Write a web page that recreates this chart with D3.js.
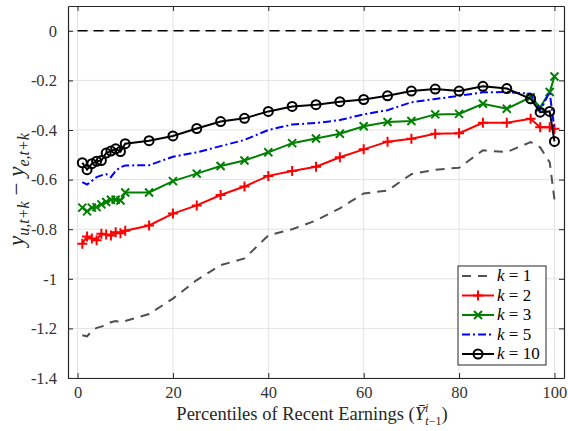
<!DOCTYPE html>
<html>
<head>
<meta charset="utf-8">
<script src="https://cdn.jsdelivr.net/npm/d3@7"></script>
<style>
  body { margin: 0; background: #fff; }
</style>
</head>
<body>
<div id="chart"></div>
<script>
// percentile grid on the x axis
const pct = [1,2,3,4,5,6,7,8,9,10,15,20,25,30,35,40,45,50,55,60,65,70,75,80,85,90,95,97,99,100];

// y_{u,t+k} - y_{e,t+k} for each horizon k
const k1 = [-1.228,-1.232,-1.21,-1.198,-1.193,-1.185,-1.175,-1.17,-1.175,-1.17,-1.142,-1.08,-1.005,-0.945,-0.918,-0.825,-0.80,-0.765,-0.716,-0.656,-0.644,-0.578,-0.56,-0.552,-0.482,-0.489,-0.449,-0.47,-0.53,-0.68];
const k2 = [-0.859,-0.829,-0.838,-0.845,-0.818,-0.821,-0.825,-0.812,-0.816,-0.806,-0.785,-0.737,-0.704,-0.662,-0.628,-0.585,-0.565,-0.548,-0.51,-0.478,-0.447,-0.435,-0.415,-0.413,-0.371,-0.371,-0.355,-0.389,-0.389,-0.395];
const k3 = [-0.713,-0.728,-0.713,-0.711,-0.70,-0.69,-0.681,-0.681,-0.684,-0.652,-0.652,-0.606,-0.576,-0.545,-0.523,-0.49,-0.453,-0.434,-0.415,-0.385,-0.368,-0.364,-0.337,-0.335,-0.294,-0.314,-0.268,-0.308,-0.247,-0.184];
const k5 = [-0.61,-0.62,-0.605,-0.59,-0.583,-0.578,-0.59,-0.565,-0.55,-0.543,-0.542,-0.508,-0.49,-0.465,-0.44,-0.40,-0.378,-0.372,-0.36,-0.337,-0.32,-0.288,-0.275,-0.262,-0.248,-0.247,-0.254,-0.32,-0.247,-0.40];
const k10 = [-0.532,-0.56,-0.536,-0.526,-0.523,-0.493,-0.485,-0.476,-0.487,-0.455,-0.443,-0.424,-0.394,-0.366,-0.353,-0.325,-0.305,-0.298,-0.286,-0.277,-0.262,-0.243,-0.235,-0.243,-0.224,-0.233,-0.274,-0.328,-0.325,-0.446];

const xTicks = [0,20,40,60,80,100];
const yTicks = [0,-0.2,-0.4,-0.6,-0.8,-1,-1.2,-1.4];
const legendLabels = ["1","2","3","5","10"];

const W = 568, H = 431;
const m = {top: 6, right: 4, bottom: 53, left: 68};
const serif = "'Liberation Serif', 'DejaVu Serif', serif";

const svg = d3.select("#chart").append("svg")
    .attr("width", W)
    .attr("height", H)
    .attr("font-family", serif);

const x = d3.scaleLinear().domain([-2, 102]).range([m.left, W - m.right]);
const y = d3.scaleLinear().domain([-1.4, 0.1]).range([H - m.bottom, m.top]);

// grid
svg.append("g").selectAll("line").data(xTicks).enter().append("line")
    .attr("x1", d => x(d)).attr("x2", d => x(d))
    .attr("y1", y.range()[0]).attr("y2", y.range()[1])
    .attr("stroke", "#e3e3e3").attr("stroke-width", 1);
svg.append("g").selectAll("line").data(yTicks).enter().append("line")
    .attr("x1", x.range()[0]).attr("x2", x.range()[1])
    .attr("y1", d => y(d)).attr("y2", d => y(d))
    .attr("stroke", "#e3e3e3").attr("stroke-width", 1);

// zero line
svg.append("line")
    .attr("x1", x(0)).attr("x2", x(100))
    .attr("y1", y(0)).attr("y2", y(0))
    .attr("stroke", "#000").attr("stroke-width", 1.6)
    .attr("stroke-dasharray", "10,6");

// axes (MATLAB box with inward ticks)
const axisColor = "#262626";
const fmt = d => d === 0 ? "0" : String(d);

const axB = svg.append("g").attr("transform", "translate(0," + y.range()[0] + ")")
    .call(d3.axisBottom(x).tickValues(xTicks).tickSizeInner(-5).tickSizeOuter(0).tickPadding(8).tickFormat(fmt));
const axT = svg.append("g").attr("transform", "translate(0," + y.range()[1] + ")")
    .call(d3.axisTop(x).tickValues(xTicks).tickSizeInner(-5).tickSizeOuter(0).tickFormat(""));
const axL = svg.append("g").attr("transform", "translate(" + x.range()[0] + ",0)")
    .call(d3.axisLeft(y).tickValues(yTicks).tickSizeInner(-5).tickSizeOuter(0).tickPadding(11).tickFormat(fmt));
const axR = svg.append("g").attr("transform", "translate(" + x.range()[1] + ",0)")
    .call(d3.axisRight(y).tickValues(yTicks).tickSizeInner(-5).tickSizeOuter(0).tickFormat(""));

[axB, axT, axL, axR].forEach(a => {
    a.attr("font-family", serif).attr("font-size", 16.5);
    a.select(".domain").attr("stroke", axisColor).attr("stroke-width", 1.2);
    a.selectAll(".tick line").attr("stroke", axisColor);
    a.selectAll(".tick text").attr("fill", "#333");
});

// series
const series = [
    {name: "1", vals: k1, color: "#505050", dash: "9,7", marker: null},
    {name: "2", vals: k2, color: "#ff0000", dash: null, marker: "plus"},
    {name: "3", vals: k3, color: "#008000", dash: null, marker: "cross"},
    {name: "5", vals: k5, color: "#0000ff", dash: "8,3,2,3", marker: null},
    {name: "10", vals: k10, color: "#000000", dash: null, marker: "circle"}
];

const line = d3.line()
    .x(d => x(d[0]))
    .y(d => y(d[1]));

function drawMarker(g, type, cx, cy, color) {
    if (type === "plus") {
        g.append("path")
            .attr("d", "M" + (cx - 5) + "," + cy + "H" + (cx + 5) + "M" + cx + "," + (cy - 5) + "V" + (cy + 5))
            .attr("stroke", color).attr("stroke-width", 2).attr("fill", "none");
    } else if (type === "cross") {
        g.append("path")
            .attr("d", "M" + (cx - 4) + "," + (cy - 4) + "L" + (cx + 4) + "," + (cy + 4) +
                       "M" + (cx - 4) + "," + (cy + 4) + "L" + (cx + 4) + "," + (cy - 4))
            .attr("stroke", color).attr("stroke-width", 2).attr("fill", "none");
    } else if (type === "circle") {
        g.append("circle")
            .attr("cx", cx).attr("cy", cy).attr("r", 4.5)
            .attr("stroke", color).attr("stroke-width", 2).attr("fill", "none");
    }
}

series.forEach(s => {
    const pts = pct.map((p, i) => [p, s.vals[i]]);
    const g = svg.append("g");
    g.append("path")
        .datum(pts)
        .attr("d", line)
        .attr("fill", "none")
        .attr("stroke", s.color)
        .attr("stroke-width", 2)
        .attr("stroke-dasharray", s.dash);
    if (s.marker) {
        pts.forEach(p => drawMarker(g, s.marker, x(p[0]), y(p[1]), s.color));
    }
});

// legend
const lg = svg.append("g").attr("transform", "translate(458,266)");
lg.append("rect")
    .attr("width", 88).attr("height", 99)
    .attr("fill", "#fff").attr("stroke", axisColor).attr("stroke-width", 1);

series.forEach((s, i) => {
    const ly = 10 + i * 19.5;
    lg.append("line")
        .attr("x1", 4).attr("x2", 36)
        .attr("y1", ly).attr("y2", ly)
        .attr("stroke", s.color).attr("stroke-width", 2)
        .attr("stroke-dasharray", s.dash);
    if (s.marker) drawMarker(lg, s.marker, 20, ly, s.color);
    const t = lg.append("text")
        .attr("x", 39).attr("y", ly + 5)
        .attr("font-size", 17)
        .attr("fill", "#000");
    t.append("tspan").attr("font-style", "italic").text("k");
    t.append("tspan").text(" = " + legendLabels[i]);
});

// x label
const xl = svg.append("text")
    .attr("x", (x.range()[0] + x.range()[1]) / 2 - 4)
    .attr("y", 420)
    .attr("text-anchor", "middle")
    .attr("fill", "#262626")
    .attr("font-size", 18.5);
xl.append("tspan").text("Percentiles of Recent Earnings (");
xl.append("tspan").attr("font-style", "italic").text("\u0232");
xl.append("tspan").attr("dy", -8).attr("font-size", 12).attr("font-style", "italic").text("i");
xl.append("tspan").attr("dx", -3).attr("dy", 13).attr("font-size", 12).attr("font-style", "italic").text("t");
xl.append("tspan").attr("font-size", 12).text("\u22121");
xl.append("tspan").attr("dy", -5).text(")");

// y label
const yl = svg.append("text")
    .attr("transform", "translate(24," + y(-0.64) + ") rotate(-90)")
    .attr("text-anchor", "middle")
    .attr("fill", "#262626")
    .attr("font-size", 23);
yl.append("tspan").attr("font-style", "italic").text("y");
yl.append("tspan").attr("dy", 5).attr("font-size", 16).attr("font-style", "italic").text("u,t+k");
yl.append("tspan").attr("dy", -5).text(" \u2212 ");
yl.append("tspan").attr("font-style", "italic").text("y");
yl.append("tspan").attr("dy", 5).attr("font-size", 16).attr("font-style", "italic").text("e,t+k");
</script>
</body>
</html>
